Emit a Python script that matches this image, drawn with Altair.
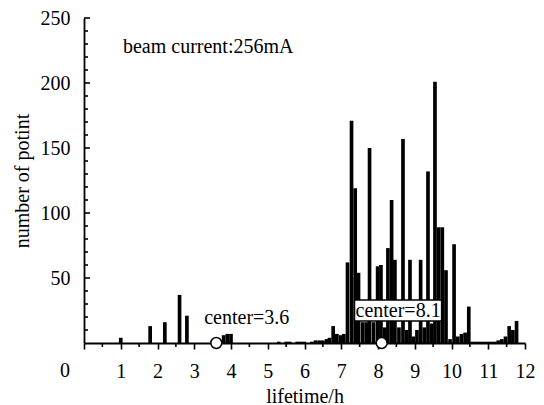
import altair as alt
import pandas as pd

# ---- data ----
lifetime = [1.0, 1.8, 2.2, 2.6, 2.8, 3.8, 3.9, 4.0,
            5.3, 5.5, 5.6, 5.8, 5.9, 6.0, 6.2, 6.3, 6.4, 6.5, 6.6,
            6.68, 6.78, 6.88, 6.98, 7.07, 7.17, 7.28, 7.38, 7.47, 7.58, 7.68,
            7.77, 7.88, 7.99, 8.08, 8.18, 8.27, 8.37, 8.46, 8.57, 8.68,
            8.78, 8.87, 8.96, 9.06, 9.16, 9.26, 9.36, 9.46, 9.55, 9.65,
            9.75, 9.85, 9.96, 10.07, 10.17, 10.27, 10.37, 10.47, 10.57, 10.67,
            10.77, 10.87, 10.97, 11.07, 11.17, 11.27, 11.37, 11.47, 11.57, 11.67,
            11.77]
counts = [4, 13, 16, 37, 21, 6, 7, 7,
          1, 1, 1, 1, 1, 1, 1, 2, 2, 2, 3,
          4, 13, 7, 6, 7, 62, 171, 119, 54, 16, 16,
          150, 16, 59, 60, 12, 73, 110, 64, 12, 157,
          10, 64, 5, 10, 64, 12, 132, 15, 201, 89,
          89, 56, 3, 76, 5, 7, 8, 28, 1, 1,
          1, 1, 1, 1, 1, 2, 3, 5, 13, 10,
          17]
bin_width = 0.1

centers = [3.6, 8.1]
center_labels = ["center=3.6", "center=8.1"]
center_label_x = [4.43, 8.546]
center_label_y = [19, 25]
center_boxed = [False, True]

note_text = "beam current:256mA"
note_x = 1.06
note_y = 228

x_major = [1, 2, 3, 4, 5, 6, 7, 8, 9, 10, 11, 12]
x_minor = [0.5, 1.5, 2.5, 3.5, 4.5, 5.5, 6.5, 7.5, 8.5, 9.5, 10.5, 11.5]
y_major = [50, 100, 150, 200, 250]
y_minor = [10, 20, 30, 40, 60, 70, 80, 90, 110, 120, 130, 140, 160, 170,
           180, 190, 210, 220, 230, 240]

FONT = "Liberation Serif"
W, H = 441, 325

xs = alt.Scale(domain=[0, 12], nice=False, zero=False)
ys = alt.Scale(domain=[0, 250], nice=False)

x_axis = alt.Axis(values=[0] + x_major, title="lifetime/h",
                  labelExpr="datum.value == 0 ? '' : datum.label",
                  labelOverlap=False, labelBound=False, labelFlush=False,
                  tickSize=6, tickWidth=1.6, tickColor="black",
                  domainColor="black", domainWidth=1.8,
                  labelFont=FONT, labelFontSize=20, labelColor="black",
                  labelPadding=12, grid=False, zindex=0,
                  titleFont=FONT, titleFontSize=20, titleFontWeight="normal",
                  titleColor="black", titlePadding=5)
y_axis = alt.Axis(values=y_major, title="number of potint",
                  labelOverlap=False, labelBound=False, labelFlush=False,
                  ticks=False, domainColor="black", domainWidth=1.8,
                  labelFont=FONT, labelFontSize=20, labelColor="black",
                  labelPadding=14, grid=False, zindex=0,
                  titleFont=FONT, titleFontSize=20, titleFontWeight="normal",
                  titleColor="black", titlePadding=8)


def X(field):
    return alt.X(field, scale=xs, axis=x_axis)


def Y(field):
    return alt.Y(field, scale=ys, axis=y_axis)


bars_df = pd.DataFrame({"h": lifetime, "v": counts})
bars = alt.Chart(bars_df).transform_calculate(
    x0=f"datum.h - {bin_width/2}", x1=f"datum.h + {bin_width/2}", base="0"
).mark_bar(color="black", stroke=None).encode(
    x=X("x0:Q"), x2="x1:Q", y=Y("v:Q"), y2="base:Q",
)

ymaj_df = pd.DataFrame({"v": y_major})
ymin_df = pd.DataFrame({"v": y_minor})
ytick_major = alt.Chart(ymaj_df).mark_rule(color="black", strokeWidth=1.6).encode(
    y=Y("v:Q"), x=alt.value(0), x2=alt.value(6))
ytick_minor = alt.Chart(ymin_df).mark_rule(color="black", strokeWidth=1.6).encode(
    y=Y("v:Q"), x=alt.value(0), x2=alt.value(4))

xmin_df = pd.DataFrame({"h": x_minor})
xtick_minor = alt.Chart(xmin_df).mark_rule(color="black", strokeWidth=1.6).encode(
    x=X("h:Q"), y=alt.value(H), y2=alt.value(H + 4))

zero_df = pd.DataFrame({"h": [0], "v": [0], "t": ["0"]})
zero_lbl = alt.Chart(zero_df).mark_text(
    font=FONT, fontSize=20, color="black", align="right", baseline="top",
    dx=-14, dy=18).encode(x=X("h:Q"), y=Y("v:Q"), text="t:N")

circ_df = pd.DataFrame({"h": centers, "v": [0, 0]})
circles = alt.Chart(circ_df).mark_point(
    shape="circle", filled=True, fill="white", stroke="black", strokeWidth=1.5,
    size=120, opacity=1).encode(x=X("h:Q"), y=Y("v:Q"))

lab_df = pd.DataFrame({"h": center_label_x, "v": center_label_y,
                       "t": center_labels, "boxed": center_boxed})
box = alt.Chart(lab_df).transform_filter("datum.boxed").mark_point(
    shape="M-1,-0.24L1,-0.24L1,0.24L-1,0.24Z", filled=True, fill="white",
    stroke="black", strokeWidth=1.4, size=7569, opacity=1).encode(
    x=X("h:Q"), y=Y("v:Q"))
labels = alt.Chart(lab_df).mark_text(
    font=FONT, fontSize=20, color="black", align="center", baseline="middle").encode(
    x=X("h:Q"), y=Y("v:Q"), text="t:N")

note_df = pd.DataFrame({"h": [note_x], "v": [note_y], "t": [note_text]})
note = alt.Chart(note_df).mark_text(
    font=FONT, fontSize=20, color="black", align="left", baseline="middle").encode(
    x=X("h:Q"), y=Y("v:Q"), text="t:N")

chart = alt.layer(bars, ytick_major, ytick_minor, xtick_minor, zero_lbl,
                  circles, box, labels, note).properties(
    width=W, height=H, autosize="none",
    padding={"left": 84, "top": 18, "right": 19, "bottom": 62},
    background="white",
).configure_view(stroke=None).configure_axis(labelOverlap=False)

chart.save("out.html", embed_options={"renderer": "svg", "actions": False})
